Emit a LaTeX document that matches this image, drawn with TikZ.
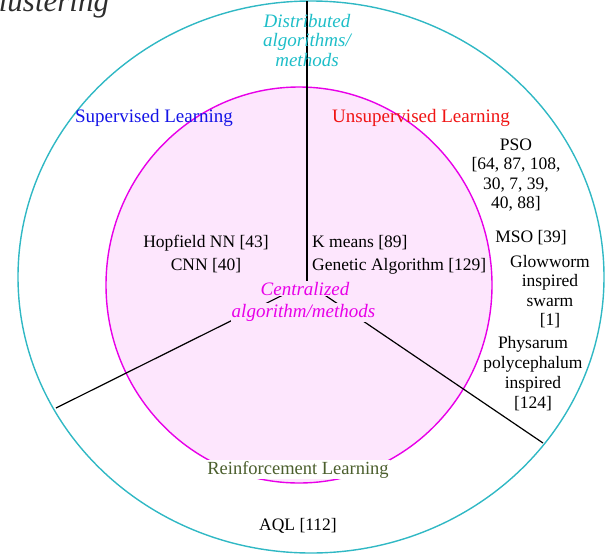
\documentclass[tikz,border=0pt]{standalone}
\usepackage{fontspec}
\setmainfont{Liberation Serif}
\definecolor{ringcyan}{RGB}{48,184,196}
\definecolor{distcyan}{RGB}{30,190,200}
\definecolor{ringmag}{RGB}{232,0,232}
\definecolor{corepink}{RGB}{253,230,253}
\definecolor{suplblue}{RGB}{20,20,230}
\definecolor{unsupred}{RGB}{240,20,20}
\definecolor{reinfgreen}{RGB}{75,95,45}
\definecolor{titlegray}{RGB}{45,45,45}
\begin{document}
% multi-line labels are placed by the baseline of their last line
\begin{tikzpicture}[x=1pt,y=-1pt,
  body/.style={font=\fontsize{17.5}{19.5}\selectfont, align=center, anchor=base, inner sep=0pt},
  head/.style={font=\fontsize{19}{22}\selectfont, anchor=base, inner sep=0pt},
  italichead/.style={font=\fontsize{19}{19.5}\selectfont\itshape, align=center, anchor=base, inner sep=0pt},
  divider/.style={draw=black, line width=1.2pt}]
\useasboundingbox (0,0) rectangle (607,554);

% rings
\draw[ringcyan, line width=1.4pt] (311,277) ellipse [x radius=293pt, y radius=276pt];
\draw[ringmag, fill=corepink, line width=1.4pt] (299,285) ellipse [x radius=193pt, y radius=198pt];

% sector dividers
\coordinate (hub) at (307,283);
\coordinate (topend) at (307,1);
\coordinate (leftend) at (56,408);
\coordinate (rightend) at (543,443);
\draw[divider] (hub) -- (topend);
\draw[divider] (hub) -- (leftend);
\draw[divider] (hub) -- (rightend);

% title
\node[anchor=base west, inner sep=0pt, text=titlegray, font=\fontsize{31}{34}\selectfont\itshape] (title) at (-22,12) {Clustering};

% ring labels
\node[italichead, text=distcyan] (dist) at (307,66) {Distributed\\algorithms/\\methods};
\node[italichead, text=ringmag, fill=corepink, inner sep=1pt] (cent1) at (305,295) {Centralized};
\node[italichead, text=ringmag, fill=corepink, inner sep=1pt] (cent2) at (303.5,317) {algorithm/methods};

% sector labels
\node[head, text=suplblue] (sup) at (154,122) {Supervised Learning};
\node[head, text=unsupred] (unsup) at (421,122) {Unsupervised Learning};
\node[head, text=reinfgreen, fill=white, inner sep=1pt, font=\fontsize{18.5}{22}\selectfont] (reinf) at (298,474) {Reinforcement Learning};

% entries
\node[body, font=\fontsize{17.5}{23}\selectfont] (hop) at (206,270) {Hopfield NN [43]\\CNN [40]};
\node[body, font=\fontsize{17.5}{23}\selectfont, align=left, anchor=base west] (km) at (312,270) {K means [89]\\Genetic Algorithm [129]};
\node[body] (pso) at (516,208.5) {PSO\\{}[64, 87, 108,\\30, 7, 39,\\40, 88]};
\node[body] (mso) at (531,242) {MSO [39]};
\node[body] (glow) at (550,325.5) {Glowworm\\inspired\\swarm\\{}[1]};
\node[body, font=\fontsize{17.5}{20}\selectfont] (phys) at (533,408) {Physarum\\polycephalum\\inspired\\{}[124]};
\node[body] (aql) at (298,530) {AQL [112]};
\end{tikzpicture}
\end{document}
